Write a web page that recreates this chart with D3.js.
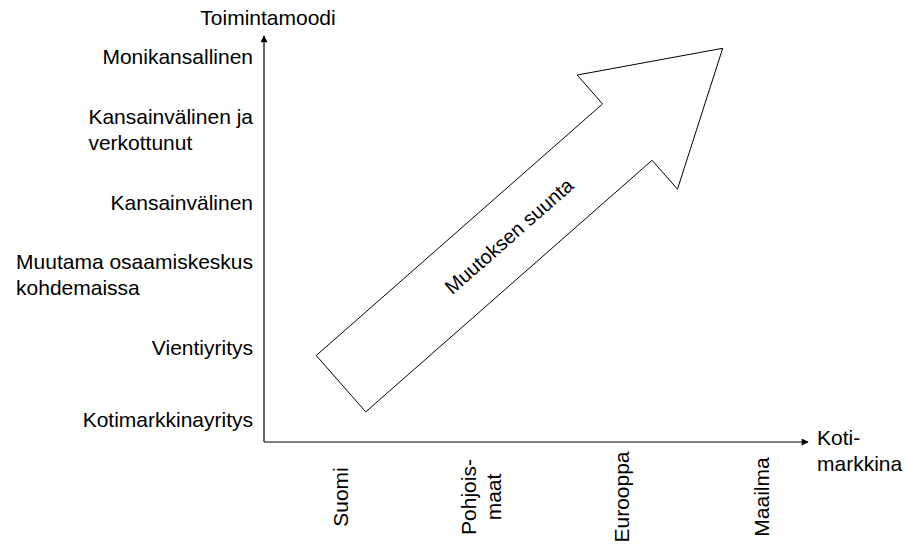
<!DOCTYPE html>
<html>
<head>
<meta charset="utf-8">
<script src="https://cdn.jsdelivr.net/npm/d3@7"></script>
<style>
  html, body { margin: 0; padding: 0; background: #fff; }
  svg text { font-family: "Liberation Sans", Arial, sans-serif; fill: #000; }
</style>
</head>
<body>
<svg id="chart" width="906" height="546"></svg>
<script>
// Operating mode (y) — bottom to top, "\n" splits lines
const modes = [
  "Kotimarkkinayritys",
  "Vientiyritys",
  "Muutama osaamiskeskus\nkohdemaissa",
  "Kansainvälinen",
  "Kansainvälinen ja\nverkottunut",
  "Monikansallinen"
];

// Home market (x)
const markets = ["Suomi", "Pohjois-\nmaat", "Eurooppa", "Maailma"];

const yAxisTitle = "Toimintamoodi";
const xAxisTitle = ["Koti-", "markkina"];

// Direction of change arrow, in category index units [market, mode]
const arrowFrom = [0, 0.5];
const arrowTo = [2.72, 5.12];
const arrowLabel = "Muutoksen suunta";

const svg = d3.select("#chart");
const FS = 21, LH = 25.5;

const originX = 264, originY = 442;

const x = d3.scalePoint().domain(markets).range([341, 762]);
const y = d3.scalePoint().domain(modes).range([420, 57]);
// continuous versions of the same scales for the annotation arrow
const xLin = d3.scaleLinear().domain([0, markets.length - 1]).range(x.range());
const yLin = d3.scaleLinear().domain([0, modes.length - 1]).range(y.range());

// arrowhead marker for axes
svg.append("defs").append("marker")
  .attr("id", "axis-head")
  .attr("viewBox", "0 0 10 10")
  .attr("refX", 9).attr("refY", 5)
  .attr("markerWidth", 8).attr("markerHeight", 7)
  .attr("markerUnits", "userSpaceOnUse")
  .attr("orient", "auto")
  .append("path").attr("d", "M0,0L10,5L0,10Z").attr("fill", "#000");

// axes
svg.append("line")
  .attr("x1", originX).attr("y1", originY)
  .attr("x2", originX).attr("y2", 36)
  .attr("stroke", "#000").attr("stroke-width", 1.2)
  .attr("marker-end", "url(#axis-head)");
svg.append("line")
  .attr("x1", originX).attr("y1", originY)
  .attr("x2", 808).attr("y2", originY)
  .attr("stroke", "#000").attr("stroke-width", 1.2)
  .attr("marker-end", "url(#axis-head)");

// y labels: multi-line blocks left aligned, block right edge at ~253
const yLabels = svg.append("g").selectAll("text")
  .data(modes)
  .join("text")
  .attr("font-size", FS)
  .each(function(d) {
    const lines = d.split("\n");
    const t = d3.select(this);
    const top = y(d) - (lines.length - 1) * LH / 2;
    lines.forEach((ln, i) => {
      t.append("tspan").attr("y", top + i * LH).attr("dy", "0.35em").text(ln);
    });
    let w = 0;
    t.selectAll("tspan").each(function() { w = Math.max(w, this.getComputedTextLength()); });
    t.selectAll("tspan").attr("x", 253 - w);
  });

// x labels, rotated
svg.append("g").selectAll("text")
  .data(markets)
  .join("text")
  .attr("font-size", FS)
  .attr("text-anchor", "middle")
  .attr("transform", d => `translate(${x(d)},497) rotate(-90)`)
  .each(function(d) {
    const lines = d.split("\n");
    const t = d3.select(this);
    lines.forEach((ln, i) => {
      t.append("tspan").attr("x", 0)
        .attr("y", (i - (lines.length - 1) / 2) * LH)
        .attr("dy", "0.35em").text(ln);
    });
  });

// axis titles
svg.append("text")
  .attr("x", 268).attr("y", 18).attr("dy", "0.35em")
  .attr("font-size", FS).attr("text-anchor", "middle")
  .text(yAxisTitle);
svg.append("text")
  .attr("font-size", FS)
  .selectAll("tspan").data(xAxisTitle).join("tspan")
  .attr("x", 817).attr("y", (d, i) => 438 + i * LH).attr("dy", "0.35em")
  .text(d => d);

// big direction arrow
const p0 = [xLin(arrowFrom[0]), yLin(arrowFrom[1])];
const p1 = [xLin(arrowTo[0]), yLin(arrowTo[1])];
const dx = p1[0] - p0[0], dy = p1[1] - p0[1];
const len = Math.hypot(dx, dy);
const ux = dx / len, uy = dy / len;   // along
const nx = -uy, ny = ux;              // normal
const shaftHalf = 37.5, headHalf = 76, headLen = 127;
const pt = (a, b) => [p0[0] + ux * a + nx * b, p0[1] + uy * a + ny * b];
const arrowPts = [
  pt(0, -shaftHalf),
  pt(len - headLen, -shaftHalf),
  pt(len - headLen, -headHalf),
  pt(len, 0),
  pt(len - headLen, headHalf),
  pt(len - headLen, shaftHalf),
  pt(0, shaftHalf)
];
svg.append("path")
  .attr("d", d3.line()(arrowPts) + "Z")
  .attr("fill", "#fff")
  .attr("stroke", "#000")
  .attr("stroke-width", 1);

const angle = Math.atan2(dy, dx) * 180 / Math.PI;
const mid = pt(len * 0.44, 0);
svg.append("text")
  .attr("font-size", 20)
  .attr("text-anchor", "middle")
  .attr("dy", "0.35em")
  .attr("transform", `translate(${mid[0]},${mid[1]}) rotate(${angle})`)
  .text(arrowLabel);
</script>
</body>
</html>
